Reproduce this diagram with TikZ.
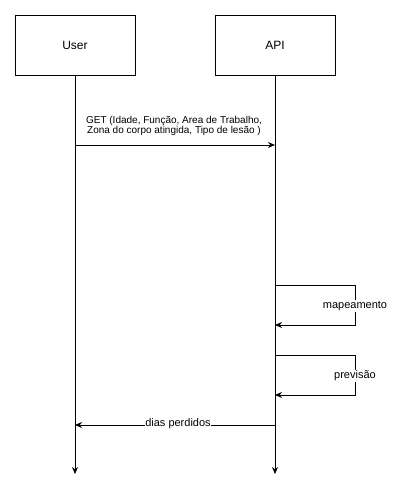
\documentclass[tikz,border=0pt]{standalone}
\usepackage{fontspec}
\setmainfont{Liberation Sans}
\usetikzlibrary{arrows.meta}

\tikzset{
  actor/.style={draw, minimum width=120pt, minimum height=60pt, inner sep=0pt, font=\fontsize{12}{14}\selectfont},
  msg/.style={-{Stealth[length=7pt,width=6pt]}},
  msglabel/.style={fill=white, inner sep=1pt, font=\fontsize{11}{13}\selectfont}
}

\begin{document}
\begin{tikzpicture}[x=1pt, y=-1pt, line width=0.9pt]
  \useasboundingbox (0,0) rectangle (402,499);

  \node[actor] (user) at (75,45)  {User};
  \node[actor] (api)  at (275,45) {API};

  % lifelines
  \coordinate (userend) at (75,474);
  \coordinate (apiend)  at (275,474);
  \draw[msg] (user) -- (userend);
  \draw[msg] (api) -- (apiend);

  % request
  \coordinate (u1) at (75,145);
  \coordinate (a1) at (275,145);
  \draw[msg] (u1) -- (a1);
  \node[font=\fontsize{10}{10.5}\selectfont, align=center, inner sep=0pt] (get) at (174,126)
    {GET (Idade, Função, Area de Trabalho,\\ Zona do corpo atingida, Tipo de lesão )};

  % self calls
  \foreach \y/\txt/\nm in {285/mapeamento/map, 355/previsão/prev} {
    \coordinate (\nm a) at (275,\y);
    \coordinate (\nm b) at (275,\y+40);
    \draw[msg] (\nm a) -- ++(80,0) |- (\nm b);
    \node[msglabel] (\nm) at (355,\y+21) {\txt};
  }

  % response
  \coordinate (a4) at (275,425);
  \coordinate (u4) at (75,425);
  \draw[msg] (a4) -- (u4);
  \node[msglabel, inner sep=0pt] (days) at (178,424) {dias perdidos};

\end{tikzpicture}
\end{document}
